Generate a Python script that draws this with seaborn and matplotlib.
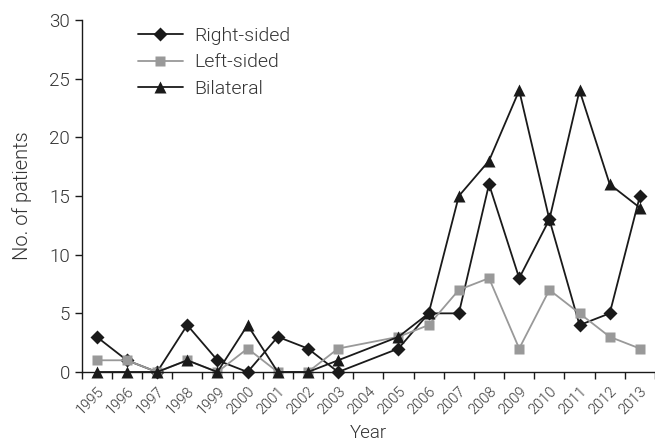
import matplotlib
matplotlib.use('Agg')
import matplotlib.pyplot as plt
import numpy as np
import pandas as pd
import seaborn as sns

years = list(range(1995, 2014))
right_sided = [3, 1, 0, 4, 1, 0, 3, 2, 0, np.nan, 2, 5, 5, 16, 8, 13, 4, 5, 15]
left_sided = [1, 1, 0, 1, 0, 2, 0, 0, 2, np.nan, 3, 4, 7, 8, 2, 7, 5, 3, 2]
bilateral = [0, 0, 0, 1, 0, 4, 0, 0, 1, np.nan, 3, 5, 15, 18, 24, 13, 24, 16, 14]
series = ['Right-sided', 'Left-sided', 'Bilateral']


def main() -> None:
    sns.set_style('ticks')
    plt.rcParams['font.family'] = ['Roboto', 'DejaVu Sans']
    plt.rcParams['font.weight'] = 300
    plt.rcParams['axes.labelweight'] = 300

    df = pd.DataFrame({'Year': years, 'Right-sided': right_sided,
                       'Left-sided': left_sided, 'Bilateral': bilateral})
    df = df.melt(id_vars='Year', var_name='side', value_name='patients').dropna()

    palette = {'Right-sided': '#1a1a1a', 'Left-sided': '#999999', 'Bilateral': '#1a1a1a'}
    markers = {'Right-sided': 'D', 'Left-sided': 's', 'Bilateral': '^'}
    msize = {'D': 7.5, 's': 6.5, '^': 9}

    fig = plt.figure(figsize=(6.55, 4.45), dpi=100)
    ax = fig.add_axes([0.1246, 0.164, 0.8754, 0.791])
    sns.lineplot(data=df, x='Year', y='patients', hue='side', style='side',
                 hue_order=series, style_order=series, palette=palette,
                 markers=markers, dashes=False, linewidth=1.3,
                 markeredgecolor='none', ax=ax)
    for line in ax.lines:
        m = line.get_marker()
        if m in msize:
            line.set_markersize(msize[m])
        line.set_clip_on(False)

    ax.set_xlim(1994.5, 2013.5)
    ax.set_ylim(0, 30)
    ax.set_yticks(range(0, 31, 5))
    ax.set_xticks(years)
    ax.set_xticklabels([str(y) for y in years], rotation=45, ha='right',
                       rotation_mode='anchor', fontsize=10.5, color='#333333')
    ax.set_xticks(np.arange(1994.5, 2014, 1), minor=True)
    ax.tick_params(axis='x', which='major', length=0, pad=9)
    ax.tick_params(axis='x', which='minor', length=5, width=1, color='#1a1a1a')
    ax.tick_params(axis='y', length=5, width=1, color='#1a1a1a', labelsize=13.5,
                   labelcolor='#333333')
    ax.set_xlabel('Year', fontsize=13.5, color='#333333', labelpad=5)
    ax.set_ylabel('No. of patients', fontsize=14.5, color='#333333', labelpad=12)

    for s in ['left', 'bottom']:
        ax.spines[s].set_color('#1a1a1a')
        ax.spines[s].set_linewidth(1)
    sns.despine(ax=ax)

    handles, labels = ax.get_legend_handles_labels()
    for h in handles:
        m = h.get_marker()
        if m in msize:
            h.set_markersize(msize[m])
    ax.legend(handles, labels, loc='upper left', bbox_to_anchor=(0.085, 1.003),
              frameon=False, fontsize=14, handlelength=2.3, handletextpad=0.6,
              labelspacing=0.45, borderaxespad=0, labelcolor='#333333')

    fig.savefig('out.png', dpi=100)


if __name__ == '__main__':
    main()
